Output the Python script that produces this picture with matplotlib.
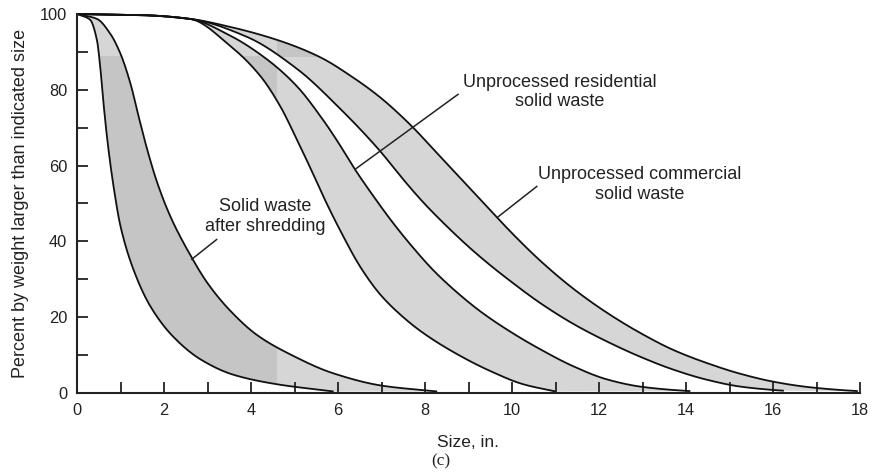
import numpy as np
import matplotlib
matplotlib.use("Agg")
import matplotlib.pyplot as plt
from matplotlib.patches import Rectangle

plt.rcParams["font.family"] = ["Liberation Sans", "DejaVu Sans"]

# Cumulative size distributions: percent by weight larger than size (in.)
shred_lo_x = [0, 0.3, 0.46, 0.53, 0.6, 0.7, 0.84, 1.0, 1.3, 1.68, 2.2, 2.85, 3.6, 4.6, 5.9]
shred_lo_y = [100, 98.5, 93, 86.5, 77.5, 66.5, 54.5, 44, 32.5, 23, 15, 8.8, 4.8, 2.3, 0.4]

shred_hi_x = [0, 0.46, 0.77, 1.0, 1.23, 1.42, 1.62, 1.85, 2.15, 2.6, 3.0, 3.54, 4.15, 4.9, 5.89, 7.03, 8.28]
shred_hi_y = [100, 98.7, 94.7, 89.5, 81.6, 72.8, 64, 55.3, 46.5, 36.5, 29, 21.5, 15.2, 10.2, 5.2, 1.9, 0.4]

resid_lo_x = [0, 1.5, 2.6, 3.52, 4.21, 4.67, 5.05, 5.4, 5.74, 6.1, 6.5, 6.97, 7.45, 7.95, 8.73, 9.5, 10.26, 11.0]
resid_lo_y = [100, 99.7, 98.7, 91.6, 83.7, 75.7, 67, 58.5, 50, 41.8, 33.5, 26, 20.5, 15.9, 10.3, 5.8, 2.3, 0.4]

resid_hi_x = [0, 1.5, 2.6, 3.52, 4.36, 5.05, 5.66, 6.0, 6.39, 6.81, 7.27, 7.73, 8.19, 8.73, 9.3, 10.0,
              10.64, 11.4, 12.18, 12.94, 13.7, 14.1]
resid_hi_y = [100, 99.7, 98.7, 94.3, 88.1, 81, 72, 66.2, 59, 52, 44.8, 38.3, 32.4, 26.6, 21.3, 15.9,
              11.6, 7.1, 3.6, 1.7, 0.8, 0.5]

comm_lo_x = [0, 1.5, 2.6, 3.9, 5.06, 6.05, 6.97, 7.43, 7.96, 8.5, 9.03, 9.49, 10.0, 10.64, 11.4,
             12.18, 12.94, 13.7, 14.48, 15.24, 16.0, 16.25]
comm_lo_y = [100, 99.7, 98.7, 94, 85.5, 75, 63.8, 57.3, 50.3, 44, 38.3, 33.8, 29.2, 23.8, 18.3,
             13.6, 9.6, 6.2, 3.5, 1.7, 0.8, 0.6]

comm_hi_x = [0, 1.5, 2.6, 3.52, 4.67, 5.59, 6.34, 6.97, 7.66, 8.3, 8.9, 9.5, 10.1, 10.64, 11.4,
             12.18, 12.94, 13.7, 14.48, 15.24, 16.0, 16.78, 17.54, 17.95]
comm_hi_y = [100, 99.7, 98.7, 96.6, 92.9, 88.6, 83.3, 78, 70.8, 63, 55.6, 48.2, 41, 35, 27.6,
             21.2, 15.9, 11.4, 7.9, 5.1, 3.0, 1.6, 0.8, 0.5]

x_ticks = [0, 2, 4, 6, 8, 10, 12, 14, 16, 18]
y_ticks = [0, 20, 40, 60, 80, 100]


def smooth(xs, ys, n=400):
    """Monotone cubic (PCHIP) path through the given points."""
    x = np.asarray(xs, float)
    y = np.asarray(ys, float)
    h = np.diff(x)
    d = np.diff(y) / h
    m = np.zeros_like(y)
    for k in range(1, len(x) - 1):
        if d[k - 1] * d[k] <= 0:
            m[k] = 0.0
        else:
            w1 = 2 * h[k] + h[k - 1]
            w2 = h[k] + 2 * h[k - 1]
            m[k] = (w1 + w2) / (w1 / d[k - 1] + w2 / d[k])
    m[0] = d[0]
    m[-1] = d[-1]
    xn = np.linspace(x[0], x[-1], n)
    idx = np.clip(np.searchsorted(x, xn) - 1, 0, len(x) - 2)
    t = (xn - x[idx]) / h[idx]
    h00 = 2 * t**3 - 3 * t**2 + 1
    h10 = t**3 - 2 * t**2 + t
    h01 = -2 * t**3 + 3 * t**2
    h11 = t**3 - t**2
    yn = h00 * y[idx] + h10 * h[idx] * m[idx] + h01 * y[idx + 1] + h11 * h[idx] * m[idx + 1]
    return xn, yn


fig = plt.figure(figsize=(8.76, 4.73), dpi=100)
ax = fig.add_axes([77 / 876, 80 / 473, 783 / 876, 379 / 473])

light = "#d6d6d6"
dark = "#c5c5c5"

bands = [
    (shred_lo_x, shred_lo_y, shred_hi_x, shred_hi_y),
    (resid_lo_x, resid_lo_y, resid_hi_x, resid_hi_y),
    (comm_lo_x, comm_lo_y, comm_hi_x, comm_hi_y),
]

for lx, ly, hx, hy in bands:
    ax_, ay_ = smooth(lx, ly)
    bx_, by_ = smooth(hx, hy)
    px = np.concatenate([ax_, bx_[::-1]])
    py = np.concatenate([ay_, by_[::-1]])
    ax.fill(px, py, color=light, lw=0, zorder=1)
    # darker screen-tone patches
    for rect in [(0.5, 0, 4.1, 88.8), (4.6, 88.6, 0.9, 4.6)]:
        poly = ax.fill(px, py, color=dark, lw=0, zorder=1.5)[0]
        clip = Rectangle((rect[0], rect[1]), rect[2], rect[3], transform=ax.transData)
        poly.set_clip_path(clip)

for xs, ys in [(shred_lo_x, shred_lo_y), (shred_hi_x, shred_hi_y),
               (resid_lo_x, resid_lo_y), (resid_hi_x, resid_hi_y),
               (comm_lo_x, comm_lo_y), (comm_hi_x, comm_hi_y)]:
    sx, sy = smooth(xs, ys)
    ax.plot(sx, sy, color="#111111", lw=1.3, zorder=3, clip_on=False,
            solid_capstyle="butt")

ax.set_xlim(0, 18)
ax.set_ylim(0, 100)
for s in ["top", "right"]:
    ax.spines[s].set_visible(False)
for s in ["left", "bottom"]:
    ax.spines[s].set_linewidth(1.5)
    ax.spines[s].set_color("#222222")
    ax.spines[s].set_zorder(4)

ax.set_xticks(x_ticks)
ax.set_xticks(np.arange(1, 18, 2), minor=True)
ax.set_yticks(y_ticks)
ax.set_yticks(np.arange(10, 100, 20), minor=True)
ax.tick_params(which="both", direction="in", length=8, width=1.3, color="#222222",
               labelsize=11.8, labelcolor="#222222")
ax.tick_params(axis="x", which="both", pad=7)
ax.tick_params(axis="y", which="both", pad=7)

kw = dict(fontsize=13, color="#222222", ha="center", va="center", linespacing=1.2)
ax.text(4.32, 46.6, "Solid waste\nafter shredding", **kw)
ax.text(11.1, 79.4, "Unprocessed residential\nsolid waste", **kw)
ax.text(12.94, 55.0, "Unprocessed commercial\nsolid waste", **kw)

lkw = dict(color="#222222", lw=1.1, zorder=4)
ax.plot([3.21, 2.64], [40.5, 35.3], **lkw)
ax.plot([8.76, 6.39], [78.8, 59.0], **lkw)
ax.plot([10.57, 9.66], [54.5, 46.3], **lkw)

fig.text(468 / 876, 1 - 442 / 473, "Size, in.", fontsize=12.5, color="#222222",
         ha="center", va="center")
fig.text(441 / 876, 1 - 461 / 473, "(c)", fontsize=12.5, color="#222222",
         ha="center", va="center", family=["Liberation Serif", "DejaVu Serif"])
fig.text(21 / 876, 1 - 203 / 473, "Percent by weight larger than indicated size",
         fontsize=13, color="#222222", rotation=90, ha="center", va="center")

fig.savefig("out.png", dpi=100)
